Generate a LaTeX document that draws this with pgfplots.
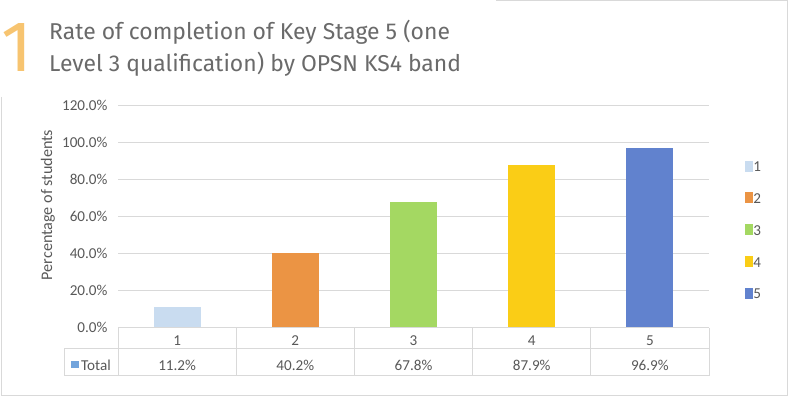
\documentclass[border=0pt]{standalone}
\usepackage{pgfplots}
\pgfplotsset{compat=1.18}
\usepackage{fontspec}
\setmainfont{Carlito}
\newfontfamily\titlefont{Fira Sans}
\definecolor{gridc}{HTML}{D9D9D9}
\definecolor{tgray}{HTML}{595959}
\definecolor{titlegray}{HTML}{6A6A6A}
\definecolor{oneor}{HTML}{F7C470}
\definecolor{cA}{HTML}{C9DCF0}
\definecolor{cB}{HTML}{EB9444}
\definecolor{cC}{HTML}{A4D862}
\definecolor{cD}{HTML}{FACD16}
\definecolor{cE}{HTML}{6182CE}
\definecolor{totc}{HTML}{72A4DC}
\pgfplotsset{bx/.style={draw=none, bar shift=0pt, bar width=47bp,
  legend image code/.code={\path (0bp,-4bp) rectangle (8bp,4bp); \fill[##1, overlay] (0bp,-1bp) rectangle (8bp,7bp);}}}
\newcommand\tf{\fontsize{15.2}{17}\selectfont}
\begin{document}
\begin{tikzpicture}
\fill[white] (0,0) rectangle (788bp,396bp);
\useasboundingbox (0,0) rectangle (788bp,396bp);
% frame
\draw[gridc, line width=1bp] (1bp,299bp) -- (1bp,1bp) -- (787bp,1bp) -- (787bp,395.5bp) -- (496bp,395.5bp);
% title
\node[anchor=base west, inner sep=0pt, text=oneor, font=\titlefont\fontsize{72}{72}\selectfont] at (1bp,324bp) {1};
\node[anchor=base west, inner sep=0pt, text=titlegray, font=\titlefont\fontsize{23}{27}\selectfont] at (49bp,356bp) {Rate of completion of Key Stage 5 (one};
\node[anchor=base west, inner sep=0pt, text=titlegray, font=\titlefont\fontsize{23}{27}\selectfont] at (49bp,324bp) {Level 3 qualification) by OPSN KS4 band};
\begin{axis}[
  at={(118bp,68.3bp)}, anchor=south west, scale only axis,
  width=591bp, height=222bp,
  xmin=0.5, xmax=5.5, ymin=0, ymax=120,
  ybar,
  axis line style={draw=none},
  major tick style={draw=none},
  xtick=\empty,
  ytick={0,20,...,120},
  ymajorgrids, grid style={gridc, line width=1bp},
  yticklabel={\pgfmathprintnumber[fixed,fixed zerofill,precision=1]{\tick}\%},
  /pgf/number format/assume math mode=true,
  yticklabel style={font=\tf, text=tgray, anchor=east, xshift=-7bp},
  clip=false,
  legend style={draw=none, fill=none, inner sep=0pt, at={(1.061,0.435)}, anchor=west,
    row sep=20.5bp, nodes={inner sep=0pt, font=\tf, text=tgray},
    /tikz/every even column/.append style={column sep=6bp}},
  legend cell align=left,
]
\addplot[bx, fill=cA] coordinates {(1,11.2)};
\addplot[bx, fill=cB] coordinates {(2,40.2)};
\addplot[bx, fill=cC] coordinates {(3,67.8)};
\addplot[bx, fill=cD] coordinates {(4,87.9)};
\addplot[bx, fill=cE] coordinates {(5,96.9)};
\legend{1,2,3,4,5}
\end{axis}
% y label
\node[rotate=90, text=tgray, font=\fontsize{16.2}{18}\selectfont] at (48bp,191bp) {Percentage of students};
% data table
\draw[gridc, line width=1.5bp] (118bp,68.3bp) -- (709bp,68.3bp);
\draw[gridc, line width=1bp] (64bp,47bp) -- (709bp,47bp);
\draw[gridc, line width=1bp] (64bp,20bp) -- (709bp,20bp);
\draw[gridc, line width=1bp] (64bp,47bp) -- (64bp,20bp);
\foreach \k in {0,...,5} {
  \draw[gridc, line width=1bp] ({(118+118.2*\k)*1bp},68.3bp) -- ({(118+118.2*\k)*1bp},20bp);
}
\foreach \k/\v in {1/11.2\%,2/40.2\%,3/67.8\%,4/87.9\%,5/96.9\%} {
  \node[text=tgray, font=\tf, inner sep=0pt] at ({(118+118.2*(\k-0.5))*1bp},55bp) {\k};
  \node[text=tgray, font=\tf, inner sep=0pt] at ({(118+118.2*(\k-0.5))*1bp},31bp) {\v};
}
\fill[totc] (71bp,27.5bp) rectangle (78.5bp,35bp);
\node[anchor=west, text=tgray, font=\tf, inner sep=0pt] at (81bp,31bp) {Total};
\end{tikzpicture}
\end{document}
